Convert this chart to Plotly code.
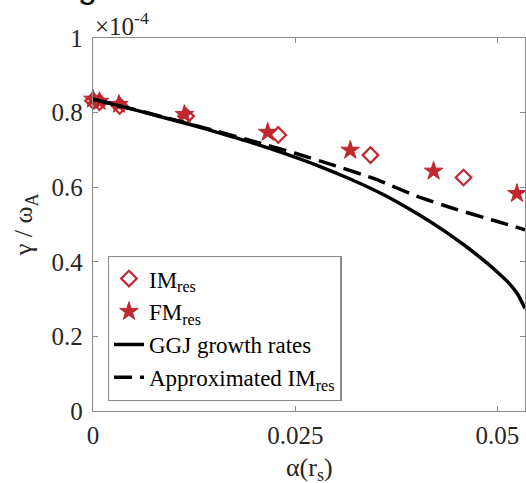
import plotly.graph_objects as go

# Growth rates in units of 1e-4 (gamma / omega_A)
alpha_im = [0.0, 0.0008, 0.0033, 0.0115, 0.0229, 0.0343, 0.0458]
gamma_im = [0.832, 0.828, 0.818, 0.790, 0.740, 0.686, 0.626]

alpha_fm = [0.0, 0.0008, 0.0032, 0.0113, 0.0216, 0.0318, 0.0421, 0.0524]
gamma_fm = [0.836, 0.830, 0.822, 0.795, 0.747, 0.699, 0.643, 0.583]

alpha_ggj = [0.0, 0.004, 0.008, 0.012, 0.016, 0.020, 0.024, 0.028, 0.032,
             0.036, 0.040, 0.043, 0.046, 0.048, 0.050, 0.0515, 0.0525, 0.0534]
gamma_ggj = [0.836, 0.814, 0.791, 0.768, 0.743, 0.717, 0.688, 0.656, 0.620,
             0.579, 0.530, 0.489, 0.443, 0.409, 0.372, 0.341, 0.313, 0.275]

alpha_apx = [0.0, 0.005, 0.010, 0.015, 0.020, 0.025, 0.030, 0.035, 0.040,
             0.045, 0.050, 0.0534]
gamma_apx = [0.836, 0.809, 0.781, 0.752, 0.722, 0.691, 0.657, 0.621, 0.576,
             0.540, 0.508, 0.486]

x_ticks = [0, 0.025, 0.05]
x_ticktext = ["0", "0.025", "0.05"]
y_ticks = [0, 0.2, 0.4, 0.6, 0.8, 1.0]
y_ticktext = ["0", "0.2", "0.4", "0.6", "0.8", "1"]

RED = "#c0282d"
AXIS = "#8a8a8a"
TXT = "#262626"
SERIF = "Liberation Serif"

fig = go.Figure()
fig.add_trace(go.Scatter(
    x=alpha_im, y=gamma_im, mode="markers", name="IM<sub>res</sub>",
    marker=dict(symbol="diamond-open", size=12, color=RED,
                line=dict(width=2.2, color=RED)),
    cliponaxis=False))
fig.add_trace(go.Scatter(
    x=alpha_fm, y=gamma_fm, mode="markers", name="FM<sub>res</sub>",
    marker=dict(symbol="star", size=14, color=RED,
                line=dict(width=1, color=RED)),
    cliponaxis=False))
fig.add_trace(go.Scatter(
    x=alpha_ggj, y=gamma_ggj, mode="lines", name="GGJ growth rates",
    line=dict(color="black", width=3.5, shape="spline", smoothing=0.6)))
fig.add_trace(go.Scatter(
    x=alpha_apx, y=gamma_apx, mode="lines", name="Approximated IM<sub>res</sub>",
    line=dict(color="black", width=3.5, dash="18px,8px", shape="spline",
              smoothing=0.6)))

axis_common = dict(
    showline=True, linecolor=AXIS, linewidth=1.3, mirror="ticks",
    ticks="inside", ticklen=5, tickcolor=AXIS, tickwidth=1.2,
    showgrid=False, zeroline=False,
    tickfont=dict(family=SERIF, size=25, color=TXT),
)

fig.update_xaxes(range=[0, 0.0534], tickvals=x_ticks, ticktext=x_ticktext,
                 ticklabelstandoff=2, **axis_common)
fig.update_yaxes(range=[0, 1], tickvals=y_ticks, ticktext=y_ticktext,
                 ticklabelstandoff=4, **axis_common)

fig.add_annotation(xref="paper", yref="paper", x=0.0, y=1.0,
                   xanchor="left", yanchor="bottom", yshift=-4,
                   text="×10<sup>-4</sup>", showarrow=False,
                   font=dict(family=SERIF, size=25, color=TXT))
fig.add_annotation(xref="paper", yref="paper", x=-0.158, y=0.5,
                   xanchor="center", yanchor="middle", textangle=-90,
                   text="γ / ω<sub>A</sub>", showarrow=False,
                   font=dict(family=SERIF, size=26, color=TXT))
fig.add_annotation(xref="paper", yref="paper", x=0.5, y=0.0,
                   xanchor="center", yanchor="top", yshift=-40,
                   text="α(r<sub>s</sub>)", showarrow=False,
                   font=dict(family=SERIF, size=26, color=TXT))
# clipped panel heading above the axes
fig.add_annotation(xref="paper", yref="paper", x=-0.013, y=1.0,
                   xanchor="center", yanchor="bottom", yshift=31,
                   text="g", showarrow=False,
                   font=dict(family="Liberation Sans", size=34, color="black"))

fig.update_layout(
    width=526, height=483,
    margin=dict(l=93, r=1, t=38, b=72),
    paper_bgcolor="white", plot_bgcolor="white",
    showlegend=True,
    legend=dict(x=0.034, y=0.416, xanchor="left", yanchor="top",
                bgcolor="white", bordercolor=AXIS, borderwidth=1.3,
                font=dict(family=SERIF, size=23, color="black"),
                tracegroupgap=0, itemwidth=30),
)

fig.write_html("out.html")
